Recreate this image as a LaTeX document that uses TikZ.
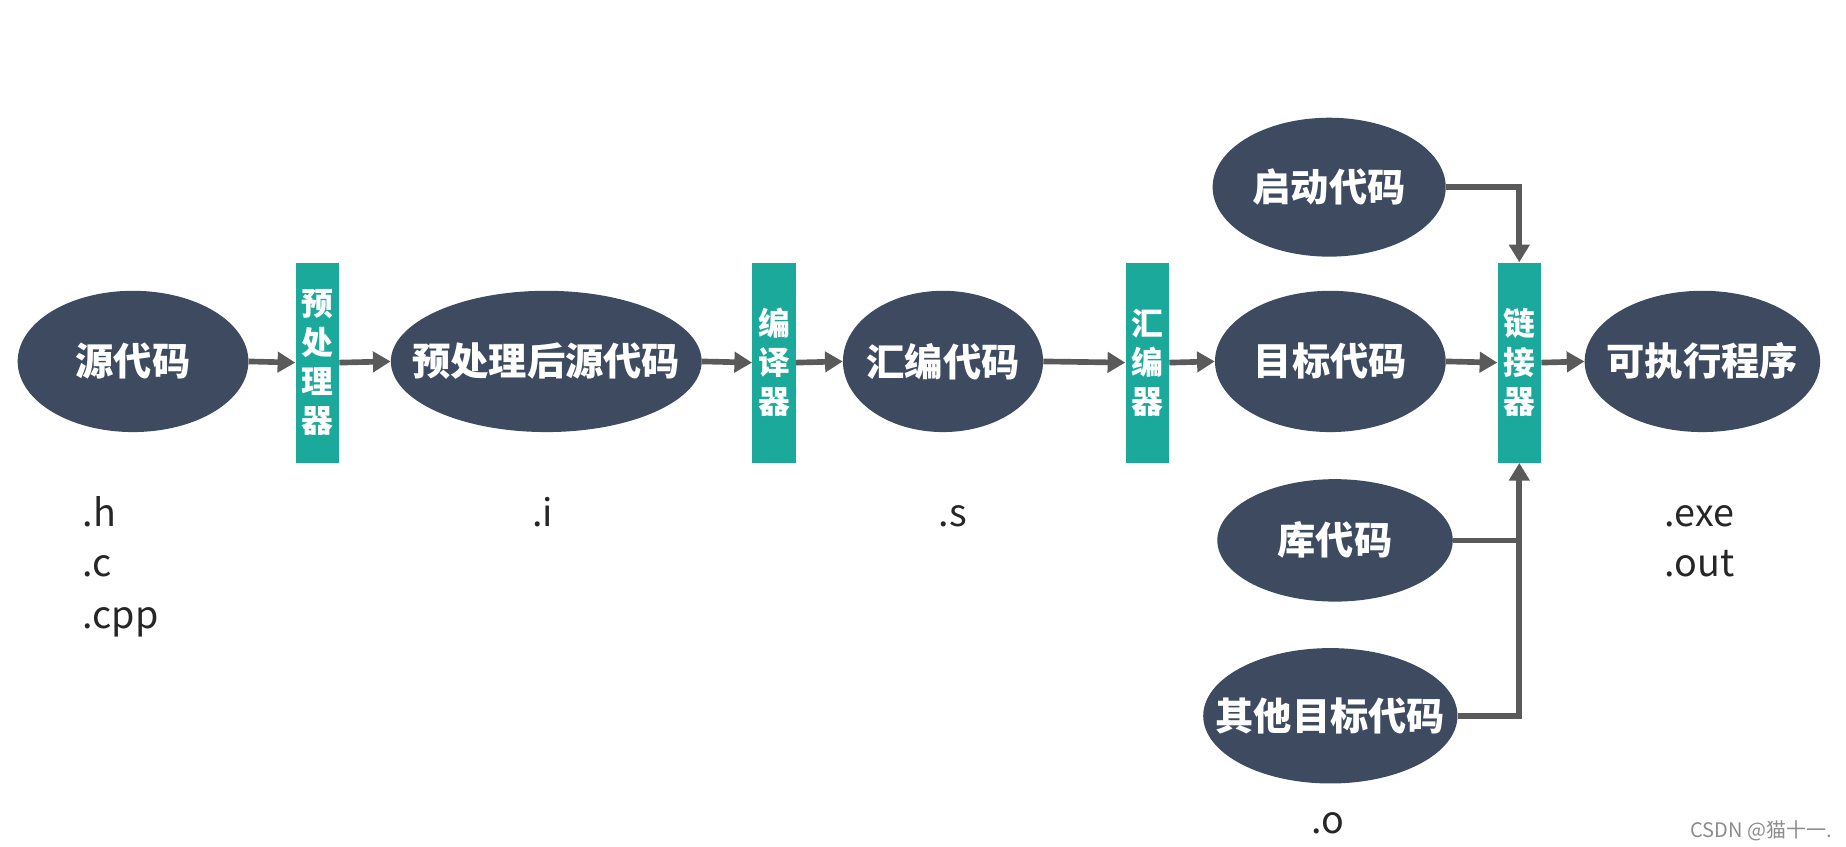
\documentclass[tikz,border=0pt]{standalone}
\usepackage{fontspec}
\setmainfont{Noto Sans CJK SC}
\usetikzlibrary{arrows.meta,shapes.geometric}
\definecolor{navy}{HTML}{3D4A5F}
\definecolor{tealbar}{HTML}{1AA99A}
\definecolor{arrowgray}{HTML}{5A5A5A}
\begin{document}
\begin{tikzpicture}[x=1pt,y=-1pt,
  blob/.style={ellipse, fill=navy, inner sep=0pt, minimum height=120pt,
    label={[text=white, font=\bfseries\fontsize{32.5}{32.5}\selectfont, inner sep=0pt]center:#1}},
  tool/.style={rectangle, fill=tealbar, text=white, minimum width=37pt, minimum height=170pt, inner sep=0pt, font=\bfseries\fontsize{27}{33}\selectfont, align=center},
  conn/.style={draw=arrowgray, line width=4.8pt, -{Triangle[length=15pt,width=17pt]}},
  plainline/.style={draw=arrowgray, line width=4.8pt},
  ext/.style={font=\fontsize{32}{32}\selectfont, text=black!85, anchor=base west, inner sep=0pt}
]
\useasboundingbox (0,0) rectangle (1568,719);

% ellipses
\node[blob=源代码, minimum width=196pt] (src) at (113,307) {};
\node[blob=预处理后源代码, minimum width=264pt] (pre) at (464,307) {};
\node[blob=汇编代码, minimum width=170pt] (asm) at (801,307) {};
\node[blob=目标代码, minimum width=196pt] (obj) at (1130,307) {};
\node[blob=启动代码, minimum width=198pt, minimum height=118pt] (boot) at (1129,159) {};
\node[blob=可执行程序, minimum width=200pt] (exe) at (1446,307) {};
\node[blob=库代码, minimum width=200pt, minimum height=104pt] (lib) at (1134,459) {};
\node[blob=其他目标代码, minimum width=216pt, minimum height=115pt] (other) at (1130,608) {};

% tools
\node[tool] (pp) at (269.5,308) {预\\处\\理\\器};
\node[tool] (cc) at (657.5,308) {编\\译\\器};
\node[tool] (as) at (974.5,308) {汇\\编\\器};
\node[tool] (ld) at (1290.5,308) {链\\接\\器};

% main chain
\draw[conn] (src.east) -- (pp.west);
\draw[conn] (pp.east) -- (pre.west);
\draw[conn] (pre.east) -- (cc.west);
\draw[conn] (cc.east) -- (asm.west);
\draw[conn] (asm.east) -- (as.west);
\draw[conn] (as.east) -- (obj.west);
\draw[conn] (obj.east) -- (ld.west);
\draw[conn] (ld.east) -- (exe.west);

% linker inputs
\draw[conn] (boot.east) -| (ld.north);
\draw[conn] (other.east) -| (ld.south);
\draw[plainline] (lib.east) -- (lib.east -| ld.south);

% extension labels
\node[ext] (eh) at (70,447) {.h};
\node[ext] (ec) at (70,490) {.c};
\node[ext] (ecpp) at (70,534) {.cpp};
\node[ext] (ei) at (452,447) {.i};
\node[ext] (es) at (797,447) {.s};
\node[ext] (eexe) at (1414,447) {.exe};
\node[ext] (eout) at (1414,490) {.out};
\node[ext] (eo) at (1114,708) {.o};

% watermark
\node[anchor=base east, inner sep=0pt, text=black!45, font=\fontsize{17}{17}\selectfont] (wm) at (1556,711) {CSDN @猫十一.};
\end{tikzpicture}
\end{document}
